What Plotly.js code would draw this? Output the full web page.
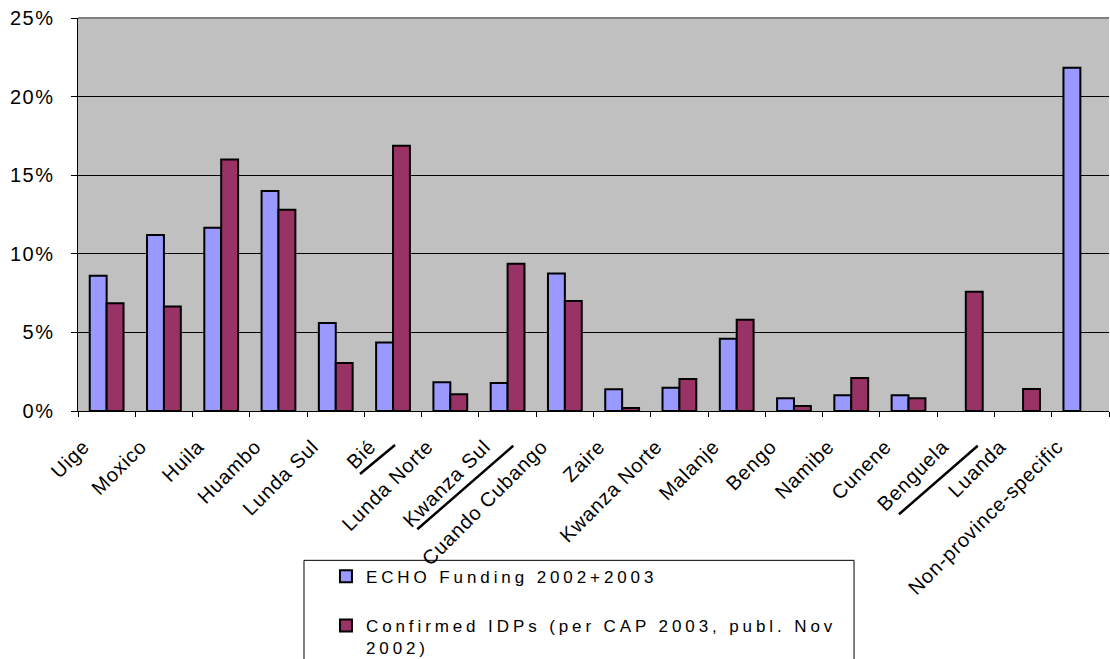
<!DOCTYPE html>
<html>
<head>
<meta charset="utf-8">
<script src="https://cdn.plot.ly/plotly-3.0.1.min.js"></script>
<style>
  html, body { margin: 0; padding: 0; background: #fff; }
  #chart { width: 1110px; height: 659px; }
  .xtick text { letter-spacing: 0.8px; }
  .ytick text { letter-spacing: 1.5px; }
  .legendtext { letter-spacing: 3.9px; }
  .legendpoints path { stroke-width: 2px !important; stroke: #000 !important; }
</style>
</head>
<body>
<div id="chart"></div>
<script>
const categories = ['Uige','Moxico','Huila','Huambo','Lunda Sul','Bié','Lunda Norte','Kwanza Sul','Cuando Cubango','Zaire','Kwanza Norte','Malanje','Bengo','Namibe','Cunene','Benguela','Luanda','Non-province-specific'];
const echoFunding = [8.6, 11.2, 11.65, 14.0, 5.6, 4.35, 1.83, 1.78, 8.75, 1.38, 1.48, 4.6, 0.81, 1.0, 1.0, null, null, 21.83];
const confirmedIDPs = [6.86, 6.64, 16.0, 12.8, 3.06, 16.88, 1.06, 9.36, 7.0, 0.19, 2.04, 5.8, 0.32, 2.1, 0.81, 7.58, 1.4, null];
const seriesNames = ['ECHO Funding 2002+2003', 'Confirmed IDPs (per CAP 2003, publ. Nov<br>2002)'];
const yTicks = [0, 5, 10, 15, 20, 25];

const font = 'Arial, "Liberation Sans", sans-serif';

const traces = [
  {
    type: 'bar', x: categories, y: echoFunding, name: seriesNames[0], legendgroup: 'a',
    marker: { color: '#9999FF', line: { color: '#000000', width: 2 } }
  },
  {
    type: 'bar', x: categories, y: confirmedIDPs, name: seriesNames[1], legendgroup: 'b',
    marker: { color: '#993366', line: { color: '#000000', width: 2 } }
  }
];

function line(x0, y0, x1, y1, color, width) {
  return { type: 'line', xref: 'paper', yref: 'paper', x0, y0, x1, y1, line: { color, width } };
}

const layout = {
  width: 1110, height: 659,
  margin: { l: 78, r: 1, t: 18, b: 248, autoexpand: false },
  paper_bgcolor: '#ffffff',
  plot_bgcolor: '#C0C0C0',
  barmode: 'group',
  bargap: 0.41,
  bargroupgap: 0,
  showlegend: true,
  font: { family: font, color: '#000000', size: 17 },
  xaxis: {
    type: 'category',
    automargin: false,
    tickangle: -45,
    tickson: 'boundaries',
    ticks: 'outside', ticklen: 5, tickcolor: '#000000', tickwidth: 1,
    showline: true, linecolor: '#000000', linewidth: 1,
    showgrid: false,
    tickfont: { family: font, size: 20, color: '#000000' },
    ticklabelstandoff: 15,
    ticklabelshift: -23
  },
  yaxis: {
    automargin: false,
    range: [0, 25],
    tickvals: yTicks,
    ticktext: yTicks.map(v => v + '%'),
    ticks: 'outside', ticklen: 6, tickcolor: '#000000', tickwidth: 1,
    showline: true, linecolor: '#000000', linewidth: 1.5,
    showgrid: true, gridcolor: '#000000', gridwidth: 1,
    zeroline: false,
    tickfont: { family: font, size: 20, color: '#000000' },
    ticklabelstandoff: 12
  },
  legend: {
    orientation: 'v',
    x: 0.2405, xanchor: 'left',
    y: -0.376, yanchor: 'top',
    bgcolor: 'rgba(0,0,0,0)',
    borderwidth: 0,
    tracegroupgap: 24,
    valign: 'top',
    font: { family: font, size: 17, color: '#000000' },
    traceorder: 'grouped'
  },
  shapes: [
    line(0, 1, 1, 1, '#808080', 2),
    { type: 'rect', xref: 'paper', yref: 'paper', x0: 0.2192, x1: 0.7527, y0: -0.38, y1: -0.72, line: { color: '#000000', width: 1 }, fillcolor: 'rgba(0,0,0,0)' },
    line(0.2735, -0.1603, 0.3075, -0.0865, '#000000', 2.5),
    line(0.3291, -0.3010, 0.4222, -0.0883, '#000000', 2.5),
    line(0.7963, -0.2628, 0.8727, -0.0883, '#000000', 2.5)
  ]
};

Plotly.newPlot('chart', traces, layout, { displayModeBar: false, staticPlot: true });
</script>
</body>
</html>
